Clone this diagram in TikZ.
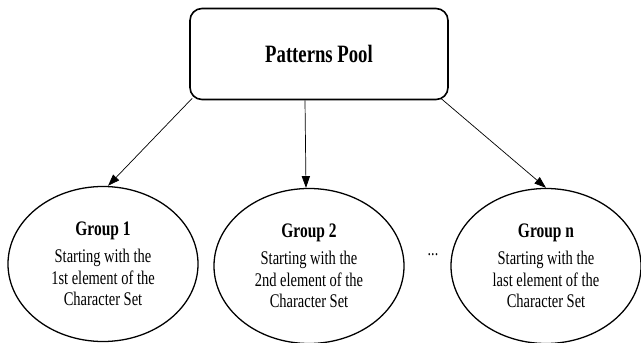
\documentclass[tikz,border=0pt]{standalone}
\usepackage{fontspec}
\setmainfont[FakeStretch=0.75]{Liberation Serif}
\usetikzlibrary{shapes.geometric,arrows.meta}
\tikzset{pool/.style = {shape=rectangle,draw,line width=1.4pt,rounded corners=0.36cm,minimum width=7.74cm,minimum height=2.73cm,font=\bfseries\fontsize{21.3}{24}\selectfont}}
\tikzset{group/.style = {shape=ellipse,draw,line width=1.1pt,minimum width=5.7cm,minimum height=4.65cm,inner sep=0pt,align=center,font=\fontsize{16.5}{18.3}\selectfont}}
\tikzset{edge/.style = {-{Triangle[length=10pt,width=7pt]},line width=0.6pt}}

\begin{document}
\begin{tikzpicture}[x=0.03cm,y=-0.03cm]
\useasboundingbox (0,0) rectangle (641,343);
% nodes
\node[pool] (pool) at (319,54) {Patterns Pool};

\node[group] (g1) at (103,264) {{\bfseries\fontsize{17.6}{18}\selectfont Group 1}\\[5pt]Starting with the\\1st element of the\\Character Set};
\node[group] (g2) at (309,266) {{\bfseries\fontsize{17.6}{18}\selectfont Group 2}\\[5pt]Starting with the\\2nd element of the\\Character Set};
\node[group] (gn) at (546,266) {{\bfseries\fontsize{17.6}{18}\selectfont Group n}\\[5pt]Starting with the\\last element of the\\Character Set};

\node[font=\fontsize{16}{18}\selectfont] (dots) at (433,255) {...};
%edges
\draw[edge] ([shift={(3,-2)}]pool.south west) to ([xshift=5*0.03cm]g1.north);
\draw[edge] ([xshift=-14*0.03cm]pool.south) to ([xshift=-3*0.03cm]g2.north);
\draw[edge] ([shift={(-8,-2)}]pool.south east) to (gn.north);
\end{tikzpicture}
\end{document}
